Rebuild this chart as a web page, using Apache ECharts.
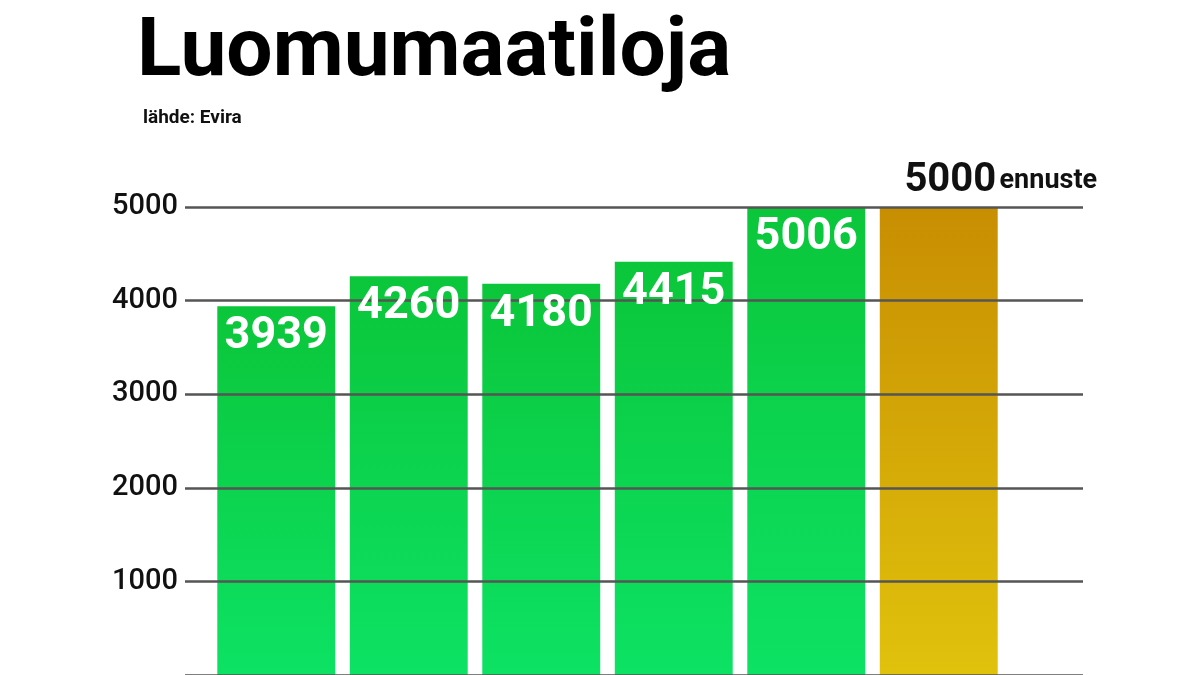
<!DOCTYPE html>
<html><head><meta charset="utf-8">
<script src="https://cdn.jsdelivr.net/npm/echarts@6/dist/echarts.min.js"></script>
<style>html,body{margin:0;padding:0;background:#fff}#c{width:1200px;height:675px}</style>
</head><body><div id="c"></div>
<script>
const categories = ['1','2','3','4','5','ennuste'];
const values = [3939, 4260, 4180, 4415, 5006, 5000];
const yTicks = [1000, 2000, 3000, 4000, 5000];

const green = new echarts.graphic.LinearGradient(0,0,0,1,[{offset:0,color:'#0bc63a'},{offset:1,color:'#0de264'}]);
const gold = new echarts.graphic.LinearGradient(0,0,0,1,[{offset:0,color:'#c88e02'},{offset:1,color:'#e0c20c'}]);

const chart = echarts.init(document.getElementById('c'));
chart.setOption({
  animation:false,
  title:[
    {text:'Luomumaatiloja',left:132,top:8,textStyle:{fontFamily:'Roboto',fontWeight:'bold',fontSize:82,color:'#000',letterSpacing:-2}},
    {text:'lähde: Evira',left:138,top:104,textStyle:{fontFamily:'Roboto',fontWeight:'bold',fontSize:19,color:'#111'}}
  ],
  grid:[
    {left:210,right:195,top:207,height:473},
    {left:185,right:117,top:207,height:473}
  ],
  xAxis:[
    {gridIndex:0,type:'category',data:categories,axisLine:{show:false},axisTick:{show:false},axisLabel:{show:false}},
    {gridIndex:1,type:'category',data:categories,show:false}
  ],
  yAxis:[
    {gridIndex:0,min:0,max:5000,interval:1000,show:false,splitLine:{show:false}},
    {gridIndex:1,min:0,max:5000,interval:1000,z:5,axisLine:{show:false},axisTick:{show:false},
     splitLine:{show:true,lineStyle:{color:'#555',width:2.5}},
     axisLabel:{margin:7,fontFamily:'Roboto',fontWeight:500,fontSize:29,color:'#111',
       formatter:v=>yTicks.includes(v)?String(v):''}}
  ],
  series:[{
    type:'bar',xAxisIndex:0,yAxisIndex:0,barCategoryGap:'11%',z:2,
    data:values.map((v,i)=>({value:v,itemStyle:{color:i===5?gold:green}}))
  },{
    type:'bar',xAxisIndex:0,yAxisIndex:0,barCategoryGap:'11%',barGap:'-100%',z:10,silent:true,
    data:values.map((v,i)=>({value:v,itemStyle:{color:'rgba(0,0,0,0)'},
      label:i===5?{show:true,position:'top',distance:6,offset:[62,0],formatter:'{a|{c}} {b|ennuste}',
        rich:{a:{fontFamily:'Roboto',fontWeight:'bold',fontSize:40,color:'#111'},b:{fontFamily:'Roboto',fontWeight:'bold',fontSize:27,color:'#111'}}}
      :{show:true,position:'insideTop',distance:8,fontFamily:'Roboto',fontWeight:'bold',fontSize:45,color:'#fff'}}))
  }]
});
</script></body></html>
